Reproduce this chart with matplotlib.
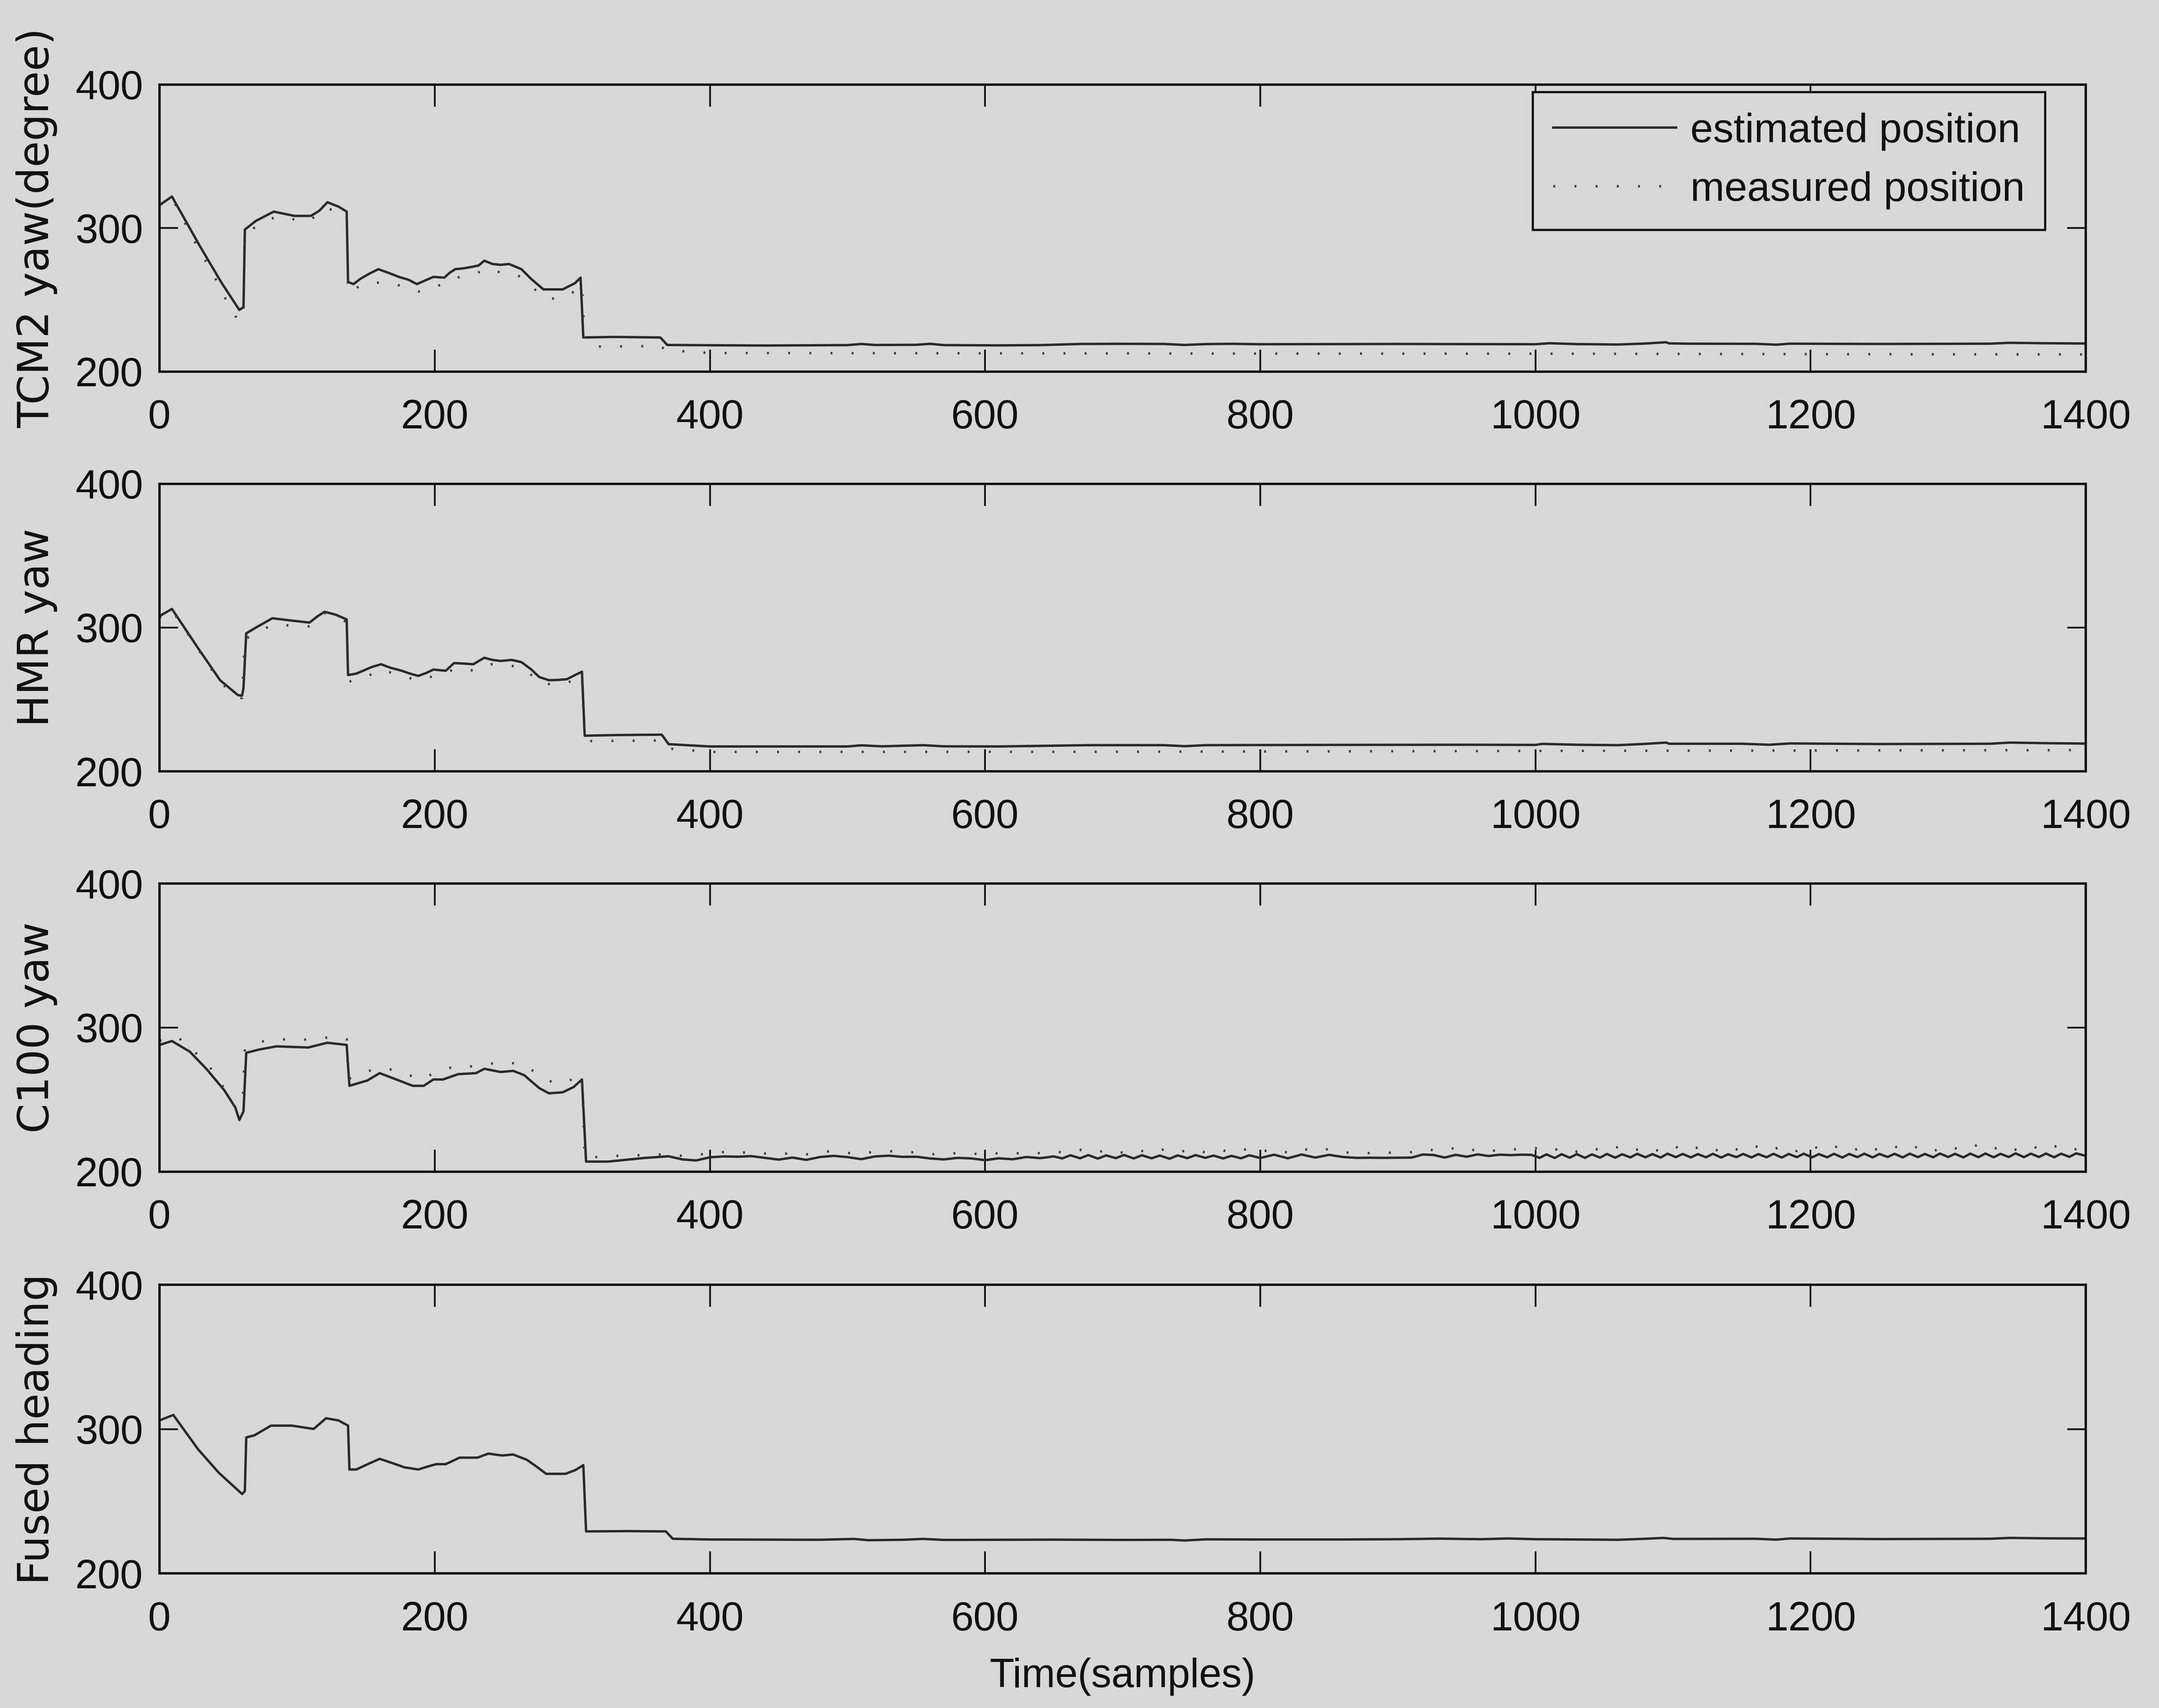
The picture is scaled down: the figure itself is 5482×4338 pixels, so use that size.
import matplotlib
matplotlib.use("Agg")
import matplotlib.pyplot as plt
from matplotlib import font_manager

# ---------------------------------------------------------------- data
x_ticks = [0, 200, 400, 600, 800, 1000, 1200, 1400]
y_ticks = [200, 300, 400]
panel_labels = ["TCM2 yaw(degree)", "HMR yaw", "C100 yaw", "Fused heading"]
legend_labels = ["estimated position", "measured position"]
x_label = "Time(samples)"

# TCM2 compass
tcm2_est_t = [0, 9, 29, 45, 58, 61, 62, 70, 83, 98, 110, 116, 122, 130, 136, 137, 141, 146, 152,
              159, 166, 174, 181, 187, 193, 199, 207, 211, 215, 221, 227, 232, 236, 242, 248, 254,
              263, 270, 279, 287, 293, 302, 306, 308, 330, 364, 369, 400, 440, 500, 510, 520, 550,
              560, 570, 610, 640, 670, 700, 730, 745, 760, 780, 800, 900, 1000, 1010, 1030, 1060,
              1080, 1095, 1097, 1110, 1160, 1175, 1185, 1250, 1330, 1345, 1370, 1400]
tcm2_est = [316, 322, 288, 262, 243, 245, 299, 305, 311.5, 308.5, 308.5, 312, 318, 315, 311.5,
            262.5, 261, 264.7, 268, 271.4, 269, 266, 264, 261, 263.5, 266, 265.5, 269, 271.4, 272,
            273, 274, 277.3, 275, 274.4, 275, 271.4, 264.7, 257.3, 257.3, 257.3, 261.7, 265.5,
            223.8, 224.2, 223.8, 218.6, 218.4, 218.2, 218.5, 219.3, 218.6, 218.7, 219.4, 218.5,
            218.3, 218.5, 219.3, 219.4, 219.3, 218.6, 219.2, 219.4, 219.1, 219.3, 219.1, 219.8,
            219.2, 218.9, 219.6, 220.5, 219.7, 219.5, 219.4, 218.8, 219.5, 219.3, 219.5, 220.1,
            219.8, 219.6]
tcm2_meas_t = [0, 9, 23, 40, 51, 57, 60, 61, 62, 75, 85, 98, 109, 120, 131, 136, 137, 139, 145,
               155, 166, 177, 188, 202, 215, 227, 238, 248, 260, 271, 281, 292, 304, 307, 309, 318,
               364, 368, 400, 600, 800, 1000, 1200, 1400]
tcm2_meas = [316, 321, 295, 266, 245, 236, 235.6, 240, 296, 304, 308, 306, 305, 314, 311.5, 309,
             256, 254.5, 259.7, 262, 262, 259.5, 255.8, 259.6, 265.5, 267, 272, 269, 267.6, 258.7,
             250.6, 251.3, 257, 260, 220, 217.5, 217.8, 215, 213, 212.8, 212.6, 212.5, 212.2,
             212.0]

# HMR compass
hmr_est_t = [0, 9, 28, 44, 57, 60, 61, 63, 70, 82, 95, 109, 115, 120, 128, 136, 137, 143, 148,
             154, 161, 168, 176, 182, 188, 194, 199, 208, 214, 221, 228, 236, 242, 248, 256, 263,
             270, 276, 283, 290, 296, 302, 307, 309, 330, 350, 365, 370, 400, 500, 510, 525, 555,
             570, 610, 675, 730, 745, 760, 850, 950, 1000, 1005, 1030, 1060, 1080, 1095, 1097,
             1150, 1170, 1185, 1250, 1330, 1345, 1370, 1400]
hmr_est = [308, 313, 285.7, 263.4, 253, 252.7, 258, 296, 300, 306.5, 305, 303.5, 308, 311, 309,
           305.7, 267, 268, 270, 272.5, 274.5, 272, 270, 268, 266.4, 268.5, 270.8, 270, 275.3,
           275, 274.5, 279, 277.5, 276.8, 277.5, 276, 271, 265.6, 263.4, 263.6, 264.1, 267, 269.3,
           224.8, 225.2, 225.4, 225.5, 218.9, 217.3, 217.3, 218.1, 217.4, 218.2, 217.4, 217.3,
           218.2, 218.2, 217.5, 218.2, 218.4, 218.5, 218.4, 219.1, 218.5, 218.2, 219.1, 220.0,
           219.2, 219.2, 218.5, 219.4, 219.0, 219.2, 220.0, 219.6, 219.3]
hmr_meas_t = [0, 9, 28, 44, 57, 60, 62, 70, 82, 95, 109, 120, 136, 137, 139, 150, 161, 174, 187,
              203, 216, 229, 241, 254, 265, 277, 291, 302, 307, 309, 365, 370, 400, 700, 1000,
              1400]
hmr_meas = [307, 312, 285, 262, 251, 251, 292, 296, 302, 301.5, 301, 310, 304, 263, 262.7, 265.6,
            270.8, 267, 263.4, 267, 271.6, 270, 274.5, 273.8, 271.6, 261, 260.4, 263.4, 266, 221,
            221.5, 215.9, 213.5, 213.6, 214.2, 214.8]

# C100 compass
c100_est_t = [0, 9, 22, 34, 47, 55, 58, 61, 63, 72, 85, 108, 122, 136, 138, 151, 160, 174, 184,
              192, 199, 206, 217, 230, 236, 248, 257, 265, 276, 283, 293, 301, 307, 310, 326, 352,
              370, 380, 390, 400, 410, 420, 430, 440, 450, 460, 470, 480, 490, 500, 510, 520, 530,
              540, 550, 560, 570, 580, 590, 600, 610, 620, 630, 640, 650, 656, 662, 669, 675, 682,
              688, 695, 701, 708, 714, 721, 727, 734, 740, 747, 753, 760, 766, 773, 779, 786, 792,
              800, 810, 820, 830, 840, 850, 860, 870, 880, 890, 900, 910, 918, 926, 934, 942, 950,
              958, 966, 974, 982, 990, 997, 1003, 1008, 1014, 1019, 1025, 1030, 1036, 1041, 1047,
              1052, 1058, 1063, 1069, 1074, 1080, 1085, 1091, 1096, 1102, 1107, 1113, 1118, 1124,
              1129, 1135, 1140, 1146, 1151, 1157, 1162, 1168, 1173, 1179, 1184, 1190, 1195, 1201,
              1206, 1212, 1217, 1223, 1228, 1234, 1239, 1245, 1250, 1256, 1261, 1267, 1272, 1278,
              1283, 1289, 1294, 1300, 1305, 1311, 1316, 1322, 1327, 1333, 1338, 1344, 1349, 1355,
              1360, 1366, 1371, 1377, 1382, 1388, 1393, 1400]
c100_est = [288, 290.7, 283.3, 271.4, 256.6, 244.7, 235.9, 241.8, 282.5, 284.7, 287, 286.2,
            289.5, 288, 259.6, 263.3, 268.4, 263.3, 259.6, 259.6, 264, 264, 267.7, 268.4, 271.4,
            269.2, 270, 267, 258, 254.4, 255.1, 258.8, 264, 207, 207, 209.5,
            210.7, 208.5, 207.8, 210.0, 210.6, 210.4, 210.8, 209.6, 208.4, 209.8, 208.2, 210.2,
            211.0, 210.1, 208.7, 210.6, 211.1, 210.3, 210.4, 209.2, 208.5, 209.6, 209.2, 208.0,
            209.3, 208.6, 210.2, 209.4, 210.6, 209.2, 211.4, 209.3, 211.5, 209.1, 211.3, 209.4,
            211.6, 209.2, 211.4, 209.3, 211.2, 209.0, 211.3, 209.4, 211.5, 209.6, 211.2, 209.2,
            211.0, 209.3, 211.4, 209.5, 211.8, 209.3, 211.9, 209.8, 211.7, 210.2, 209.6, 209.7,
            209.6, 209.7, 209.8, 211.9, 211.6, 209.8, 211.7, 210.4, 212.0, 210.9, 211.8, 211.5,
            211.8, 211.7, 209.6, 212.0, 209.5, 212.1, 209.7, 212.2, 209.6, 212.0, 209.8, 212.3,
            209.7, 212.1, 209.9, 212.4, 210.0, 212.2, 209.8, 212.5, 210.1, 212.3, 209.9, 212.2,
            210.0, 212.4, 209.8, 212.1, 210.1, 212.3, 209.9, 212.2, 210.0, 212.4, 209.8, 212.3,
            210.1, 212.5, 209.9, 212.2, 210.0, 212.4, 209.8, 212.3, 210.1, 212.5, 209.9, 212.3,
            210.2, 212.4, 209.9, 212.5, 210.1, 212.3, 210.0, 212.6, 210.2, 212.4, 209.9, 212.5,
            210.1, 212.6, 210.0, 212.4, 210.2, 212.7, 210.1, 212.5, 210.2, 212.6, 210.0, 212.5,
            210.3, 212.7, 211.0]
c100_meas_t = [0, 13, 22, 34, 43, 51, 57, 60, 62, 72, 86, 99, 113, 126, 136, 137, 141, 152, 164,
               178, 189, 202, 216, 229, 241, 254, 267, 278, 288, 300, 307, 309, 314, 328, 340, 354,
               367, 380, 390, 400, 410, 420, 430, 440, 450, 460, 470, 480, 490, 500, 510, 520, 530,
               540, 550, 560, 570, 580, 590, 600, 610, 620, 630, 640, 650, 660, 670, 680, 690, 700,
               710, 720, 730, 740, 750, 760, 770, 780, 790, 800, 810, 820, 830, 840, 850, 860, 870,
               880, 890, 900, 910, 920, 930, 940, 950, 960, 970, 980, 990, 1000, 1010, 1020, 1030,
               1040, 1050, 1060, 1070, 1080, 1090, 1100, 1110, 1120, 1130, 1140, 1150, 1160, 1170,
               1180, 1190, 1200, 1210, 1220, 1230, 1240, 1250, 1260, 1270, 1280, 1290, 1300, 1310,
               1320, 1330, 1340, 1350, 1360, 1370, 1380, 1390, 1400]
c100_meas = [291, 293.6, 286, 275.9, 264, 251.4, 240, 237, 285, 290, 292, 291.4, 292, 293.6, 292,
             264, 266.2, 270, 272, 268.4, 264, 269.2, 273.6, 273, 275, 275.9, 273, 265.5, 261,
             264, 267, 210, 210, 210.7, 211.4, 211.4, 212.1, 211.0, 211.4, 213.0, 213.6, 212.8,
             213.9, 212.6, 211.8, 213.2, 212.0, 213.8, 214.2, 213.0, 212.4, 214.0, 214.4, 213.2,
             213.6, 212.2, 212.0, 213.0, 212.6, 211.8, 212.9, 212.3, 213.6, 212.8, 214.0, 213.0,
             215.2, 212.9, 215.6, 213.1, 215.3, 213.0, 215.5, 213.2, 215.8, 213.4, 215.4, 213.1,
             215.7, 213.5, 216.0, 213.2, 216.2, 213.8, 215.9, 213.4, 213.0, 212.9, 213.1, 213.3,
             213.6, 215.8, 214.2, 216.1, 214.0, 216.3, 214.6, 216.0, 215.2, 216.4, 213.8, 217.0,
             213.9, 216.8, 214.1, 217.2, 214.0, 217.4, 214.3, 218.0, 214.2, 217.5, 214.4, 217.8,
             214.1, 217.6, 214.5, 217.9, 214.3, 218.2, 214.6, 217.7, 214.4, 218.0, 214.7, 217.8,
             214.5, 218.3, 214.6, 217.9, 214.8, 218.1, 214.6, 218.4, 214.9, 218.0, 214.7, 218.3,
             214.9, 217.5]

# fused heading
fused_t = [0, 10, 28, 43, 60, 62, 63, 69, 81, 96, 112, 121, 130, 137, 138, 143, 152, 160, 169,
           178, 188, 194, 201, 208, 218, 231, 239, 249, 257, 267, 274, 281, 288, 295, 302, 308,
           310, 340, 368, 373, 400, 480, 505, 515, 540, 555, 570, 650, 700, 735, 745, 760, 800,
           860, 900, 930, 960, 980, 1000, 1060, 1080, 1093, 1100, 1160, 1175, 1185, 1250, 1330,
           1345, 1370, 1400]
fused = [306, 309.8, 286, 269.8, 255, 257, 294.2, 295.7, 302.4, 302.4, 300.1, 307.5, 306, 302.4,
         272, 272, 276, 279.4, 276.5, 273.5, 272, 273.8, 275.7, 275.7, 280.2, 280.2, 283, 281.7,
         282.4, 278.7, 274, 269, 269, 269, 271.5, 275, 229.1, 229.3, 229.1, 224, 223.5, 223.3,
         223.9, 223.0, 223.3, 223.9, 223.2, 223.4, 223.2, 223.3, 222.8, 223.6, 223.5, 223.5,
         223.7, 224.1, 223.7, 224.2, 223.7, 223.3, 224.0, 224.6, 223.9, 224.0, 223.4, 224.2,
         223.8, 224.0, 224.6, 224.3, 224.2]

panels = [
    (tcm2_est_t, tcm2_est, tcm2_meas_t, tcm2_meas),
    (hmr_est_t, hmr_est, hmr_meas_t, hmr_meas),
    (c100_est_t, c100_est, c100_meas_t, c100_meas),
    (fused_t, fused, None, None),
]

# ---------------------------------------------------------------- style
PAPER = "#d8d8d8"
INK = "#111111"
LINE = "#2a2a2a"
DOTS = "#3c3c3c"

installed = {f.name for f in font_manager.fontManager.ttflist}
condensed = [n for n in ("Liberation Sans Narrow", "Arial Narrow", "DejaVu Sans Condensed")
             if n in installed]
if condensed:
    tick_family = [condensed[0], "Liberation Sans", "DejaVu Sans"]
    tick_size, xlab_size = 21.0, 21.4
else:
    tick_family = ["Liberation Sans", "DejaVu Sans"]
    tick_size, xlab_size = 18.6, 18.5
plt.rcParams["font.family"] = ["Liberation Sans", "DejaVu Sans"]

W, H, DPI = 5482, 4338, 400
fig = plt.figure(figsize=(W / DPI, H / DPI), dpi=DPI, facecolor=PAPER)

left, width = 0.0739, 0.8922
rects = [(0.7824, 0.1681), (0.5484, 0.1683), (0.3140, 0.1687), (0.0788, 0.1690)]

axes = []
for (bottom, height), label, (te, ve, tm, vm) in zip(rects, panel_labels, panels):
    ax = fig.add_axes([left, bottom, width, height])
    ax.set_facecolor("none")
    l_est, = ax.plot(te, ve, color=LINE, lw=1.1, solid_joinstyle="round",
                     label=legend_labels[0])
    l_meas = None
    if tm is not None:
        l_meas, = ax.plot(tm, vm, color=DOTS, lw=1.1, linestyle=(0, (0.8, 8.0)),
                          label=legend_labels[1])
    ax.set_xlim(0, 1400)
    ax.set_ylim(200, 400)
    ax.set_xticks(x_ticks)
    ax.set_yticks(y_ticks)
    ax.set_xticklabels([str(v) for v in x_ticks], family=tick_family, fontsize=tick_size)
    ax.set_yticklabels([str(v) for v in y_ticks], family=tick_family, fontsize=tick_size)
    ax.tick_params(axis="both", direction="in", top=True, right=True,
                   width=0.8, color=INK, labelcolor=INK)
    ax.tick_params(axis="x", length=10, pad=12.5)
    ax.tick_params(axis="y", length=8.5, pad=7.5)
    for sp in ax.spines.values():
        sp.set_linewidth(1.1)
        sp.set_color(INK)
    ax.set_ylabel(label, family=["DejaVu Sans"], fontsize=19.5, color=INK)
    ax.yaxis.set_label_coords(-0.053, 0.5)
    axes.append((ax, l_est, l_meas))

# legend in the top panel
ax0, h_est, h_meas = axes[0]
leg = ax0.legend([h_est, h_meas], legend_labels, loc="upper right",
                 bbox_to_anchor=(0.979, 0.974), borderaxespad=0.0,
                 prop={"family": ["Liberation Sans", "DejaVu Sans"], "size": 18.7},
                 frameon=True, fancybox=False, framealpha=1.0, facecolor=PAPER,
                 edgecolor=INK, borderpad=0.5, labelspacing=0.5,
                 handlelength=3.0, handletextpad=0.35)
leg.get_frame().set_linewidth(1.0)
for t in leg.get_texts():
    t.set_color(INK)

# shared time axis label under the bottom panel
ax_last = axes[-1][0]
ax_last.set_xlabel(x_label, family=tick_family, fontsize=xlab_size, color=INK)
ax_last.xaxis.set_label_coords(0.5, -0.292)

fig.savefig("out.png", dpi=DPI, facecolor=PAPER)
